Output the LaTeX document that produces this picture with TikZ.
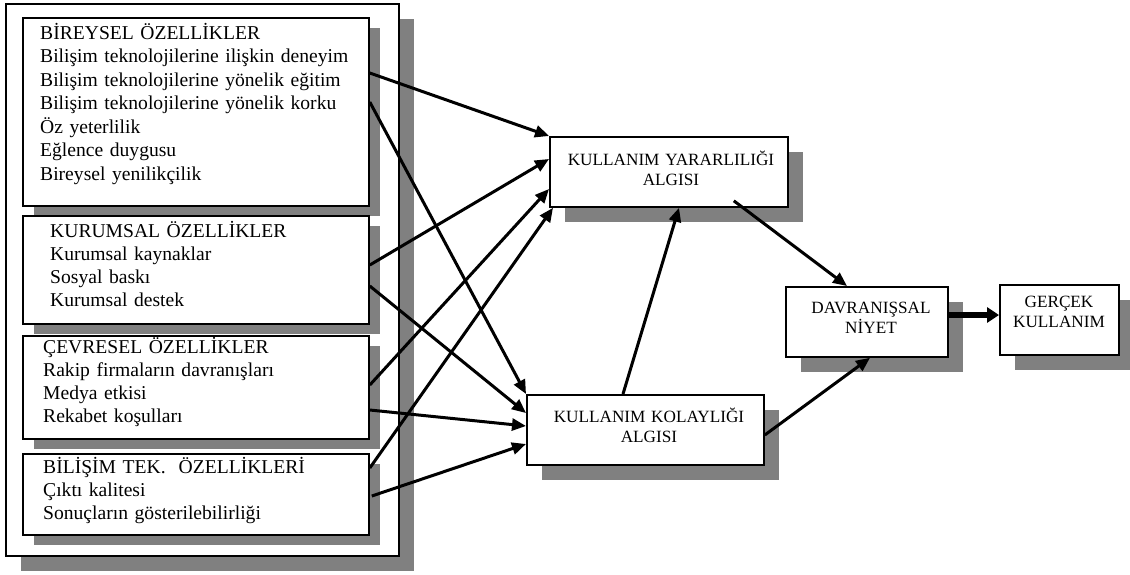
\documentclass[tikz,border=0pt]{standalone}
\usepackage{fontspec}
\setmainfont{Liberation Serif}
\usetikzlibrary{arrows.meta,shadows,calc}
\definecolor{shadowgray}{HTML}{808080}
\begin{document}
\begin{tikzpicture}[x=1pt,y=-1pt,
  box/.style={draw, line width=1.8pt, fill=white, inner sep=0pt, anchor=north west},
  shadS/.style={drop shadow={shadow xshift=11pt, shadow yshift=-10pt, fill=shadowgray, opacity=1}},
  shadL/.style={drop shadow={shadow xshift=15pt, shadow yshift=-15pt, fill=shadowgray, opacity=1}},
  ltext/.style={anchor=base west, inner sep=0pt, text width=330pt, align=left, font=\fontsize{19.6}{23.5}\selectfont},
  rtext/.style={anchor=base, inner sep=0pt, text width=240pt, align=center, font=\fontsize{17.2}{20}\selectfont},
  arr/.style={line width=3pt, -{Triangle[length=14pt,width=12pt]}},
  thickarr/.style={line width=5.5pt, -{Triangle[length=12pt,width=15pt]}},
]
\useasboundingbox (0,0) rectangle (1130,574);
% left group
\node[box, shadL, minimum width=393pt, minimum height=552pt] (outer) at (5,3) {};
\node[box, shadS, minimum width=346pt, minimum height=188pt] (b1) at (22,17) {};
\node[box, shadS, minimum width=346pt, minimum height=108pt] (b2) at (22,215) {};
\node[box, shadS, minimum width=346pt, minimum height=103pt] (b3) at (22,335) {};
\node[box, shadS, minimum width=346pt, minimum height=81pt] (b4) at (22,453) {};
\node[ltext] (t1) at (40,39) {BİREYSEL ÖZELLİKLER\\Bilişim teknolojilerine ilişkin deneyim\\Bilişim teknolojilerine yönelik eğitim\\Bilişim teknolojilerine yönelik korku\\Öz yeterlilik\\Eğlence duygusu\\Bireysel yenilikçilik};
\node[ltext, font=\fontsize{19.6}{23.3}\selectfont] (t2) at (50,237) {KURUMSAL ÖZELLİKLER\\Kurumsal kaynaklar\\Sosyal baskı\\Kurumsal destek};
\node[ltext, font=\fontsize{19.6}{23}\selectfont] (t3) at (43,353) {ÇEVRESEL ÖZELLİKLER\\Rakip firmaların davranışları\\Medya etkisi\\Rekabet koşulları};
\node[ltext, font=\fontsize{19.6}{23}\selectfont] (t4) at (43,473) {BİLİŞİM TEK.\ \ ÖZELLİKLERİ\\Çıktı kalitesi\\Sonuçların gösterilebilirliği};
% right boxes
\node[box, shadL, minimum width=238pt, minimum height=70pt] (kya) at (549,136) {};
\node[box, shadL, minimum width=237pt, minimum height=70pt] (kka) at (526,394) {};
\node[box, shadL, minimum width=162pt, minimum height=70pt] (dav) at (785,286) {};
\node[box, shadL, minimum width=119pt, minimum height=70pt] (ger) at (999,284) {};
\node[rtext] (tkya) at (671,165) {KULLANIM YARARLILIĞI\\ALGISI};
\node[rtext] (tkka) at (649,422) {KULLANIM KOLAYLIĞI\\ALGISI};
\node[rtext] (tdav) at (871,313) {DAVRANIŞSAL\\NİYET};
\node[rtext] (tger) at (1059,307) {GERÇEK\\KULLANIM};
% arrows
\draw[arr] ($(b1.north east)+(0,56)$) -- (kya.north west);
\draw[arr] ($(b1.north east)+(0,85)$) -- (kka.north west);
\draw[arr] ($(b2.north east)+(0,50)$) -- ($(kya.north west)+(0,23)$);
\draw[arr] ($(b2.north east)+(0,71)$) -- ($(kka.north west)+(0,19)$);
\draw[arr] ($(b3.north east)+(0,50)$) -- ($(kya.north west)+(0,53)$);
\draw[arr] ($(b3.north east)+(0,75)$) -- ($(kka.north west)+(0,32)$);
\draw[arr] ($(b4.north east)+(0,15)$) -- ($(kya.south west)+(4,0)$);
\draw[arr] ($(b4.north east)+(2,43)$) -- ($(kka.north west)+(0,50)$);
\draw[arr] ($(kka.north west)+(97,0)$) -- ($(kya.south west)+(130,0)$);
\draw[arr] ($(kya.south east)+(-55,-7)$) -- ($(dav.north west)+(62,0)$);
\draw[arr] ($(kka.north east)+(0,41)$) -- ($(dav.south west)+(85,0)$);
\draw[thickarr] ($(dav.north east)+(0,29)$) -- ($(ger.north west)+(0,31)$);
\end{tikzpicture}
\end{document}
